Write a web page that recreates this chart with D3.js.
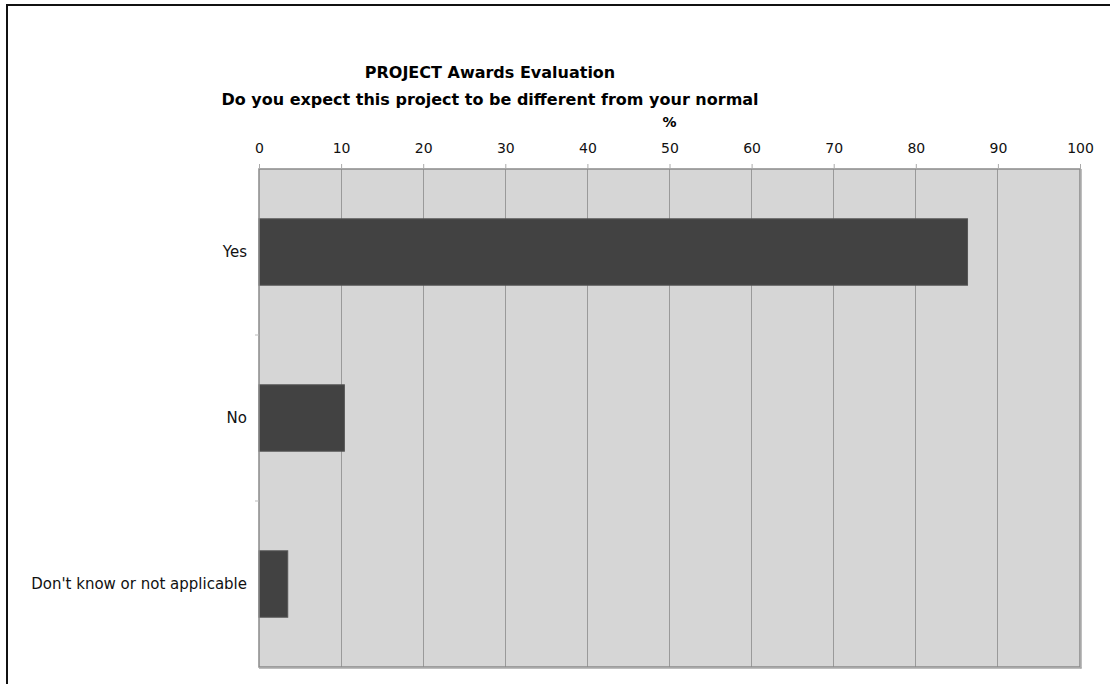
<!DOCTYPE html>
<html><head><meta charset="utf-8">
<script src="https://cdn.jsdelivr.net/npm/d3@7"></script>
<style>body{margin:0;background:#fff;} svg{display:block;font-family:"DejaVu Sans",Verdana,sans-serif;}</style>
</head><body>
<script>
const categories = ["Yes", "No", "Don't know or not applicable"];
const values = [86.3, 10.4, 3.5];
const xTicks = [0,10,20,30,40,50,60,70,80,90,100];
const titleLines = ["PROJECT Awards Evaluation", "Do you expect this project to be different from your normal"];
const axisTitle = "%";

const W = 1110, H = 684;
const svg = d3.select("body").append("svg").attr("width", W).attr("height", H);

// outer frame
svg.append("rect").attr("x", 7).attr("y", 5).attr("width", W + 10).attr("height", H + 10)
  .attr("fill", "none").attr("stroke", "#111").attr("stroke-width", 2);

const L = 259, R = 1080, T = 169, B = 667;
const x = d3.scaleLinear().domain([0, 100]).range([L, R]);
const y = d3.scaleBand().domain(categories).range([T, B]).paddingInner(0.6).paddingOuter(0.3);
const yb = d3.scaleBand().domain(categories).range([T, B]);

// plot background
svg.append("rect").attr("x", L).attr("y", T).attr("width", R - L).attr("height", B - T)
  .attr("fill", "#d6d6d6");

// gridlines
svg.append("g").selectAll("line").data(xTicks.slice(1, -1)).join("line")
  .attr("x1", d => x(d)).attr("x2", d => x(d)).attr("y1", T).attr("y2", B)
  .attr("stroke", "#9a9a9a").attr("stroke-width", 1).attr("shape-rendering", "crispEdges");

// bars
svg.append("g").selectAll("rect").data(categories).join("rect")
  .attr("x", x(0)).attr("y", d => y(d))
  .attr("width", (d, i) => x(values[i]) - x(0)).attr("height", y.bandwidth())
  .attr("fill", "#424242").attr("stroke", "#555").attr("stroke-width", 1);

// plot border
svg.append("rect").attr("x", L).attr("y", T).attr("width", R - L).attr("height", B - T)
  .attr("fill", "none").attr("stroke", "#8a8a8a").attr("stroke-width", 1.5);
svg.append("line").attr("x1", R + 1).attr("x2", R + 1).attr("y1", T).attr("y2", B + 1.5)
  .attr("stroke", "#a8a8a8").attr("stroke-width", 1.5);
svg.append("line").attr("x1", L).attr("x2", R + 1.5).attr("y1", B + 1).attr("y2", B + 1)
  .attr("stroke", "#a8a8a8").attr("stroke-width", 1.5);

// top axis
const xAxis = d3.axisTop(x).tickValues(xTicks).tickSize(5).tickPadding(11).tickFormat(d3.format("d"));
const gx = svg.append("g").attr("transform", `translate(0,${T})`).call(xAxis);
gx.select(".domain").remove();
gx.selectAll(".tick line").attr("stroke", "#aaa");
gx.selectAll(".tick text").attr("font-size", 14).attr("fill", "#111")
  .attr("font-family", "DejaVu Sans, Verdana, sans-serif");

// left axis category labels
const yAxis = d3.axisLeft(y).tickSize(0).tickPadding(12);
const gy = svg.append("g").attr("transform", `translate(${L},0)`).call(yAxis);
gy.select(".domain").remove();
gy.selectAll(".tick text").attr("font-size", 15).attr("fill", "#111")
  .attr("font-family", "DejaVu Sans, Verdana, sans-serif");
// band separator ticks
svg.append("g").selectAll("line").data(categories.slice(1)).join("line")
  .attr("x1", L - 4).attr("x2", L).attr("y1", d => yb(d)).attr("y2", d => yb(d))
  .attr("stroke", "#bbb");

// titles
svg.append("g").selectAll("text").data(titleLines).join("text")
  .attr("x", 490).attr("y", (d, i) => 78 + i * 27).attr("text-anchor", "middle")
  .attr("font-size", 16).attr("font-weight", "bold").attr("fill", "#000").text(d => d);

svg.append("text").attr("x", x(50)).attr("y", 127).attr("text-anchor", "middle")
  .attr("font-size", 14).attr("font-weight", "bold").attr("fill", "#000").text(axisTitle);
</script>
</body></html>
